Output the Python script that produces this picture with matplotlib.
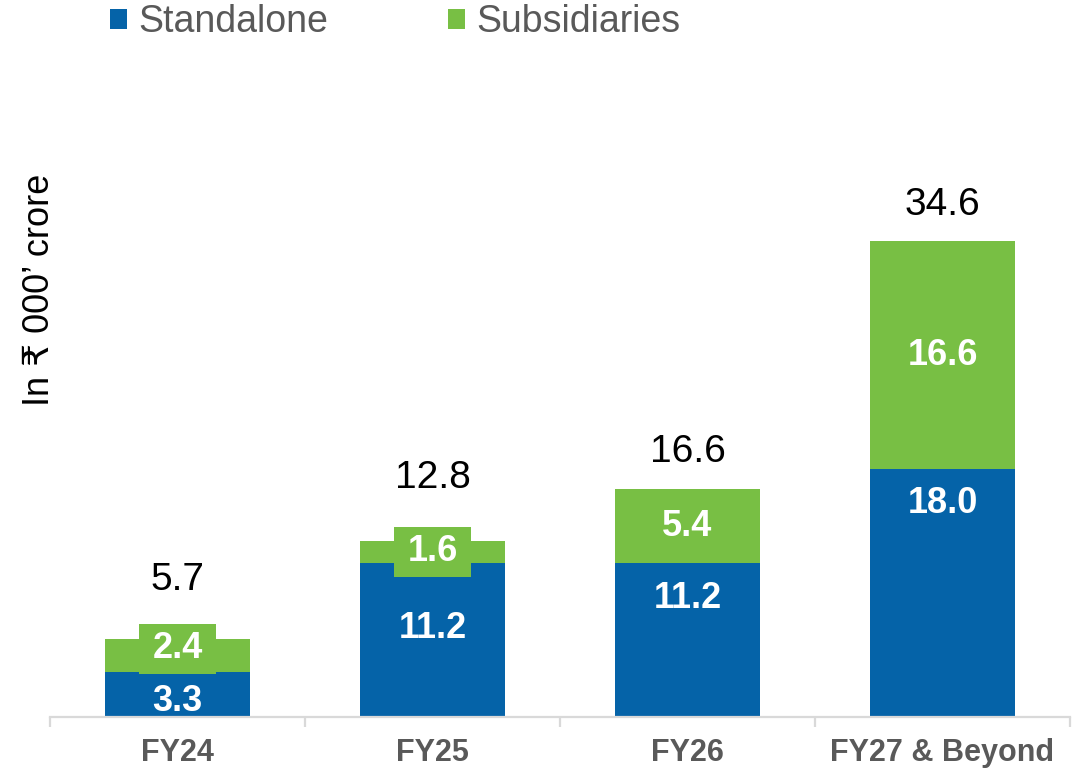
import matplotlib
matplotlib.use("Agg")
import matplotlib.pyplot as plt
from matplotlib.path import Path
import numpy as np

plt.rcParams['font.family'] = ['Liberation Sans', 'DejaVu Sans']

# Capex outlay by year (in Rs '000 crore)
categories = ["FY24", "FY25", "FY26", "FY27 & Beyond"]
standalone = [3.3, 11.2, 11.2, 18.0]
subsidiaries = [2.4, 1.6, 5.4, 16.6]
totals = [5.7, 12.8, 16.6, 34.6]

# Layout of the value labels
standalone_label_y = [1.15, 6.45, 8.6, 15.5]     # data units
subsidiaries_label_y = [4.95, 12.0, 13.85, 26.3]  # data units
total_offset_px = [59, 63, 37, 36]               # above the bar top

BLUE = "#0563a8"
GREEN = "#78bf44"
GREY = "#595959"
AXIS = "#d9d9d9"

W, H, DPI = 1076, 773, 100
fig = plt.figure(figsize=(W / DPI, H / DPI), dpi=DPI)

ymax = 40
px_per_unit = (717 - 241) / 34.6
ax_h = ymax * px_per_unit / H
ax = fig.add_axes([50 / W, 1 - 717 / H, 1020 / W, ax_h])

x = np.arange(len(categories))
bw = 0.57
ax.bar(x, standalone, bw, color=BLUE, label="Standalone", zorder=2)
ax.bar(x, subsidiaries, bw, bottom=standalone, color=GREEN,
       label="Subsidiaries", zorder=2)

ax.set_xlim(-0.5, len(categories) - 0.5)
ax.set_ylim(0, ymax)

for s in ["top", "right", "left"]:
    ax.spines[s].set_visible(False)
ax.spines["bottom"].set_color(AXIS)
ax.spines["bottom"].set_linewidth(1.6)
ax.set_yticks([])

ax.set_xticks(x)
ax.set_xticklabels(categories, fontsize=22, fontweight="bold", color=GREY)
ax.tick_params(axis="x", which="major", length=0, pad=15)
ax.set_xticks(np.arange(-0.5, len(categories), 1.0), minor=True)
ax.tick_params(axis="x", which="minor", length=7, width=1.6, color=AXIS)


def label_box(x0, y0, width, height, mutation_size):
    """Rectangular text box with separate horizontal/vertical padding."""
    px = 0.36 * mutation_size
    py = 0.2 * mutation_size
    x0, y0 = x0 - px, y0 - py
    x1, y1 = x0 + width + 2 * px, y0 + height + 2 * py
    return Path([(x0, y0), (x1, y0), (x1, y1), (x0, y1), (x0, y0)],
                closed=True)


for i in range(len(categories)):
    # standalone value
    ax.text(x[i], standalone_label_y[i], f"{standalone[i]:.1f}",
            ha="center", va="center", fontsize=26, fontweight="bold",
            color="white", zorder=4)
    # subsidiaries value, boxed in green where the segment is thin
    ax.text(x[i], subsidiaries_label_y[i],
            f"{subsidiaries[i]:.1f}", ha="center", va="center",
            fontsize=26, fontweight="bold", color="white", zorder=4,
            bbox=dict(boxstyle=label_box, fc=GREEN, ec="none"))
    # total on top
    ax.annotate(f"{totals[i]:.1f}", (x[i], standalone[i] + subsidiaries[i]),
                xytext=(0, total_offset_px[i]), textcoords="offset pixels",
                ha="center", va="center", fontsize=28, color="black")

fig.text(40 / W, 1 - 290 / H, "In \u20b9 000\u2019 crore", rotation=90,
         ha="center", va="center", fontsize=26, color="black")

handles, labels = ax.get_legend_handles_labels()
leg = fig.legend(handles, labels, loc="center", ncol=2,
                 bbox_to_anchor=(395 / W, 1 - 22 / H), frameon=False,
                 fontsize=27, handlelength=0.45, handleheight=0.45,
                 handletextpad=0.3, columnspacing=3.2, borderpad=0,
                 borderaxespad=0)
for t in leg.get_texts():
    t.set_color(GREY)

fig.savefig("out.png", dpi=DPI)
